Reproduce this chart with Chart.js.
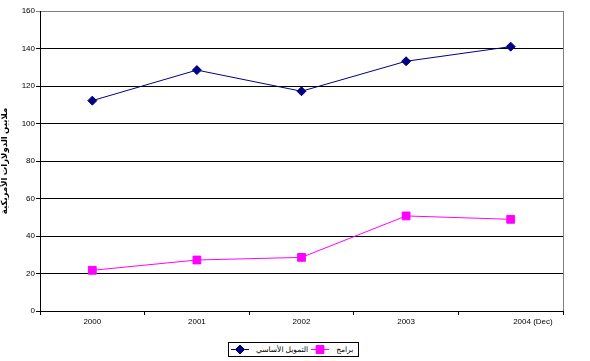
<!DOCTYPE html>
<html>
<head>
<meta charset="utf-8">
<script src="https://cdn.jsdelivr.net/npm/chart.js@4/dist/chart.umd.min.js"></script>
<style>
  html, body { margin: 0; padding: 0; background: #fff; }
  #wrap { position: relative; width: 590px; height: 361px; }
  #legend { position: absolute; left: 228px; top: 342px; height: 13px; border: 1px solid #000;
            display: flex; align-items: center; padding: 0 2px; background: #fff;
            font-family: "Liberation Sans", "DejaVu Sans", sans-serif; font-size: 7.5px; color: #000; }
  #legend .item { display: flex; align-items: center; margin-right: 3px; }
  #legend canvas { margin-right: 7px; }
</style>
</head>
<body>
<div id="wrap">
  <canvas id="c" width="590" height="361"></canvas>
  <div id="legend"></div>
</div>
<script>
const categories = ["2000", "2001", "2002", "2003", "                    2004 (Dec)"];
const coreFunding = [112.2, 128.5, 117.2, 133.2, 141];
const programmes = [21.7, 27.2, 28.6, 50.7, 48.9];
const seriesNames = ["التمويل الأساسي", "برامج"];
const yTicks = { min: 0, max: 160, step: 20 };
const yTitle = "ملايين الدولارات الأمريكية";

const colors = ["#000080", "#FF00FF"];
const styles = ["rectRot", "rect"];

const frame = {
  id: 'frame',
  afterDraw(chart) {
    const a = chart.chartArea, ctx = chart.ctx;
    ctx.save();
    ctx.strokeStyle = '#808080';
    ctx.lineWidth = 1;
    ctx.beginPath();
    ctx.moveTo(Math.round(a.right) + 0.5, a.top);
    ctx.lineTo(Math.round(a.right) + 0.5, a.bottom);
    ctx.stroke();
    ctx.restore();
  }
};

const FONT = "'Liberation Sans', 'DejaVu Sans', sans-serif";

new Chart(document.getElementById('c'), {
  type: 'line',
  data: {
    labels: categories,
    datasets: [
      { label: seriesNames[0], data: coreFunding, borderColor: colors[0], backgroundColor: colors[0],
        borderWidth: 1, pointStyle: styles[0], pointRadius: 4.5, pointHoverRadius: 4.5, tension: 0 },
      { label: seriesNames[1], data: programmes, borderColor: colors[1], backgroundColor: colors[1],
        borderWidth: 1, pointStyle: styles[1], pointRadius: 5.5, pointHoverRadius: 5.5, tension: 0 }
    ]
  },
  options: {
    responsive: false,
    animation: false,
    layout: { padding: { left: 0, top: 11, right: 27, bottom: 0 } },
    plugins: { legend: { display: false }, tooltip: { enabled: false } },
    scales: {
      x: {
        offset: true,
        grid: { offset: true, drawOnChartArea: false, color: '#000', tickLength: 4 },
        border: { color: '#000' },
        ticks: { color: '#000', font: { family: FONT, size: 8 }, padding: 2, maxRotation: 0, autoSkip: false },
        afterFit(s) { s.height = 50; }
      },
      y: {
        min: yTicks.min, max: yTicks.max,
        ticks: { stepSize: yTicks.step, color: '#000', font: { family: FONT, size: 8 }, padding: 1 },
        grid: { color: ctx => (ctx.tick && ctx.tick.value === yTicks.max) ? '#808080' : '#000', tickLength: 4 },
        border: { color: '#000' },
        title: { display: true, text: yTitle, color: '#000', font: { family: FONT, size: 8.5, weight: 'bold' }, padding: { top: 0, bottom: 3 } },
        afterFit(s) { s.width = 40; }
      }
    }
  },
  plugins: [frame]
});

// HTML legend with line + marker symbols
const legend = document.getElementById('legend');
seriesNames.forEach((name, i) => {
  const item = document.createElement('div');
  item.className = 'item';
  const sym = document.createElement('canvas');
  sym.width = 18; sym.height = 11;
  const g = sym.getContext('2d');
  g.strokeStyle = colors[i]; g.fillStyle = colors[i]; g.lineWidth = 1;
  g.beginPath(); g.moveTo(0, 5.5); g.lineTo(18, 5.5); g.stroke();
  Chart.helpers.drawPoint(g, { pointStyle: styles[i], radius: i === 0 ? 4.5 : 5.5, rotation: 0, borderWidth: 1 }, 9, 5.5);
  g.fill();
  item.appendChild(sym);
  const t = document.createElement('span');
  t.textContent = name;
  item.appendChild(t);
  legend.appendChild(item);
});
</script>
</body>
</html>
